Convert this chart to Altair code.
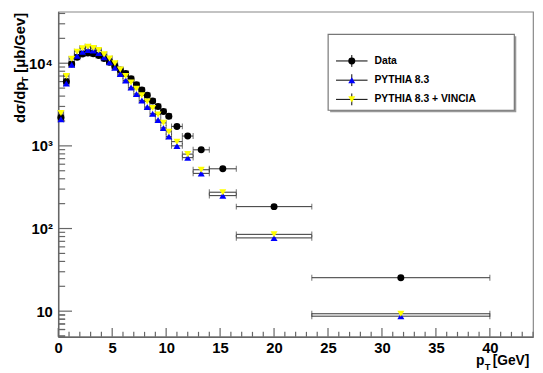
import altair as alt
import pandas as pd

# ---------------- data ----------------
series_names = ["Data", "PYTHIA 8.3", "PYTHIA 8.3 + VINCIA"]

bin_edges = [0.0, 0.5, 1.0, 1.5, 2.0, 2.5, 3.0, 3.5, 4.0, 4.5, 5.0, 5.5, 6.0, 6.5,
             7.0, 7.5, 8.0, 8.5, 9.0, 9.5, 10.0, 10.5, 11.5, 12.5, 14.0, 16.5, 23.5, 40.0]

data_vals = [2200, 6000, 9800, 11800, 12900, 13300, 13000, 12400, 11400, 10300,
             9200, 8300, 7500, 6500, 5500, 4750, 4100, 3500, 3000, 2600, 2280,
             1720, 1315, 896, 528, 184, 25.4]

pythia_vals = [2100, 5700, 9600, 12300, 13800, 14500, 14300, 13300, 11800, 10300,
               8800, 7400, 6200, 5100, 4250, 3550, 2950, 2450, 2050, 1650, 1300,
               1000, 720, 465, 250, 77, 8.7]

vincia_vals = [2500, 7000, 11300, 13800, 15200, 15800, 15300, 14400, 12800, 11400,
               10000, 8400, 7000, 5850, 4900, 4100, 3450, 2880, 2400, 1900, 1480,
               1125, 795, 514, 275, 85, 9.3]

x_major = [0, 5, 10, 15, 20, 25, 30, 35, 40]
x_minor = [v for v in range(0, 45) if v % 5 != 0]
y_major = [10, 100, 1000, 10000]
y_minor = [m * d for d in (1, 10, 100, 1000, 10000) for m in range(2, 10)
           if 4.9 <= m * d <= 42000 and m * d not in y_major] + [5, 6, 7, 8, 9]

colors = ["#000000", "#0000ff", "#ffff00"]
shapes = ["circle", "triangle-up", "triangle-down"]

rows = []
for name, vals in zip(series_names, [data_vals, pythia_vals, vincia_vals]):
    for i, v in enumerate(vals):
        lo, hi = bin_edges[i], bin_edges[i + 1]
        rows.append({"series": name, "pt": (lo + hi) / 2, "lo": lo, "hi": hi, "val": v})
df = pd.DataFrame(rows)

# ---------------- layout ----------------
W, H = 482, 330
FONT = "Liberation Sans"

xs = alt.Scale(domain=[0, 44], nice=False, zero=False)
ys = alt.Scale(type="log", domain=[4.9, 42000], nice=False)

base = alt.Chart(df)

points = base.mark_point(filled=True, opacity=1, size=50).encode(
    x=alt.X("pt:Q", scale=xs,
            axis=alt.Axis(values=x_major, format="d", ticks=False, grid=False,
                          labelFont=FONT, labelFontSize=15, labelFontWeight="bold",
                          labelColor="black", labelPadding=4, domainColor="#666",
                          domainWidth=1.5, title=None, labelFlush=False)),
    y=alt.Y("val:Q", scale=ys,
            axis=alt.Axis(values=y_major, ticks=False, grid=False,
                          labelExpr="datum.value == 10 ? '10' : datum.value == 100 ? '10²' : datum.value == 1000 ? '10³' : '10⁴'",
                          labelFont=FONT, labelFontSize=15, labelFontWeight="bold",
                          labelColor="black", labelPadding=6, domainColor="#666",
                          domainWidth=1.5, title=None)),
    color=alt.Color("series:N", scale=alt.Scale(domain=series_names, range=colors), legend=None),
    shape=alt.Shape("series:N", scale=alt.Scale(domain=series_names, range=shapes), legend=None),
)

errx = base.mark_rule(color="#333", strokeWidth=1).encode(
    x=alt.X("lo:Q", scale=xs), x2="hi:Q", y=alt.Y("val:Q", scale=ys))
cap_lo = base.mark_tick(orient="vertical", color="#333", size=6, thickness=1).encode(
    x=alt.X("lo:Q", scale=xs), y=alt.Y("val:Q", scale=ys))
cap_hi = base.mark_tick(orient="vertical", color="#333", size=6, thickness=1).encode(
    x=alt.X("hi:Q", scale=xs), y=alt.Y("val:Q", scale=ys))

# inward ticks
def xticks(vals, length):
    return alt.Chart(pd.DataFrame({"v": vals})).mark_rule(color="#666", strokeWidth=1.2).encode(
        x=alt.X("v:Q", scale=xs), y=alt.value(H), y2=alt.value(H - length))

def yticks(vals, length):
    return alt.Chart(pd.DataFrame({"v": vals})).mark_rule(color="#666", strokeWidth=1.2).encode(
        y=alt.Y("v:Q", scale=ys), x=alt.value(0), x2=alt.value(length))

tick_layers = [xticks(x_major, 9), xticks(x_minor, 5), yticks(y_major, 14), yticks(y_minor, 7)]

# axis titles
def txt(s, x, y, size=15, angle=0, align="left", baseline="alphabetic"):
    return alt.Chart(pd.DataFrame({"t": [s]})).mark_text(
        font=FONT, fontSize=size, fontWeight="bold", color="black",
        angle=angle, align=align, baseline=baseline).encode(
        text="t:N", x=alt.value(x), y=alt.value(y))

title_layers = [
    txt("dσ/dp", -39, 113, 15, 270, "left", "middle"),
    txt("T", -34, 72, 10, 270, "left", "middle"),
    txt("[μb/Gev]", -39, 62, 15, 270, "left", "middle"),
    txt("p", 424, 359, 14),
    txt("T", 433, 364, 9.5),
    txt("[GeV]", 441, 359, 14),
]

# legend
LX1, LX2, LY1, LY2 = 274, 463, 23, 100
legend_layers = [
    alt.Chart(pd.DataFrame({"a": [0]})).mark_rect(fill="#999", stroke=None).encode(
        x=alt.value(LX1 + 2), x2=alt.value(LX2 + 2), y=alt.value(LY1 + 2), y2=alt.value(LY2 + 2)),
    alt.Chart(pd.DataFrame({"a": [0]})).mark_rect(fill="white", stroke="#777", strokeWidth=1.2).encode(
        x=alt.value(LX1), x2=alt.value(LX2), y=alt.value(LY1), y2=alt.value(LY2)),
]
for i, (name, col, shp) in enumerate(zip(series_names, colors, shapes)):
    ly = 50 + i * 19.5
    d = pd.DataFrame({"label": [name]})
    legend_layers += [
        alt.Chart(d).mark_rule(color="black", strokeWidth=1).encode(
            x=alt.value(282), x2=alt.value(314), y=alt.value(ly)),
        alt.Chart(d).mark_rule(color="black", strokeWidth=1).encode(
            x=alt.value(298), y=alt.value(ly - 6), y2=alt.value(ly + 6)),
        alt.Chart(d).mark_point(filled=True, opacity=1, shape=shp, color=col, size=50).encode(
            x=alt.value(298), y=alt.value(ly)),
        alt.Chart(d).mark_text(font=FONT, fontSize=10.5, fontWeight="bold", color="black",
                               align="left", baseline="middle").encode(
            text="label:N", x=alt.value(321), y=alt.value(ly)),
    ]

chart = alt.layer(
    *tick_layers, errx, cap_lo, cap_hi, points, *legend_layers, *title_layers
).properties(
    width=W, height=H,
    autosize=alt.AutoSizeParams(type="none"),
    padding={"left": 51, "top": 1, "right": 2, "bottom": 34},
    background="white",
).configure_view(stroke="#888", strokeWidth=1.2)

chart.save("out.html", embed_options={"renderer": "svg", "actions": False})
